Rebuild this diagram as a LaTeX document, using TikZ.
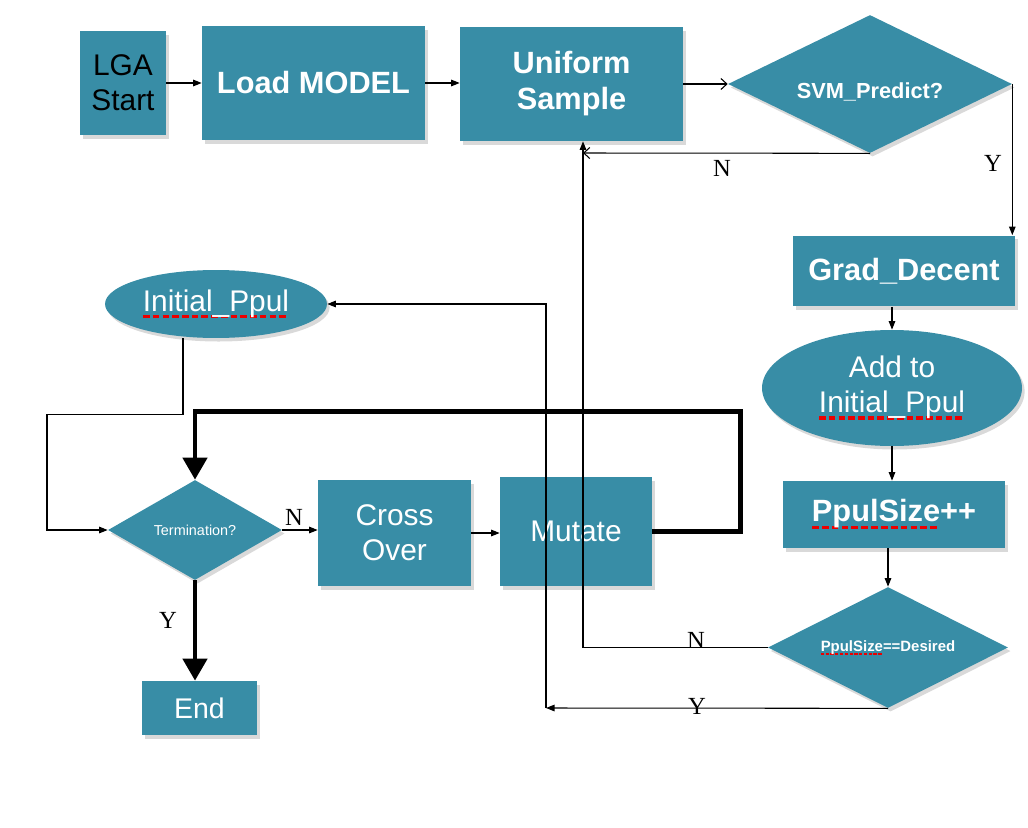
\documentclass[tikz,border=0pt]{standalone}
\usepackage{fontspec}
\setmainfont{Liberation Sans}
\newfontfamily\ynfont{Liberation Serif}
\usetikzlibrary{positioning,arrows.meta,shapes.geometric,shadows,calc}
\definecolor{boxTeal}{RGB}{56,141,166}
\definecolor{spellRed}{RGB}{235,0,0}
\newsavebox\spellbox
\newcommand\spellmark[1]{\sbox\spellbox{#1}%
  \rlap{\raisebox{-0.24em}{\textcolor{spellRed}{\hbox to \wd\spellbox{%
    \xleaders\hbox{\rule{0.22em}{0.12em}\kern0.1em}\hfil}}}}\usebox\spellbox}
\tikzset{
  blk/.style={rectangle,fill=boxTeal,text=white,align=center,inner sep=2pt,
    font=\fontsize{17}{20}\selectfont,
    drop shadow={shadow xshift=1.5pt,shadow yshift=-2pt,opacity=0.3}},
  bblk/.style={blk,font=\bfseries\fontsize{17.5}{20.5}\selectfont},
  oval/.style={blk,ellipse,inner sep=0pt},
  dec/.style={blk,diamond,shape aspect=2,inner sep=0pt},
  arr/.style={-{Triangle[length=1.7mm,width=1.3mm]},line width=0.6pt},
  openarr/.style={-{Straight Barb[length=1.2mm,width=2.2mm]},line width=0.6pt},
  fatarr/.style={-{Triangle[length=4.4mm,width=4.8mm]},line width=2.6pt},
  yn/.style={font=\ynfont\fontsize{14}{14}\selectfont,inner sep=0pt},
}

\begin{document}
\begin{tikzpicture}[x=0.02cm,y=-0.02cm]
\useasboundingbox (0,0) rectangle (1028,828);

% =====================================================================
%  TOP ROW — start, model, sampling, SVM test
% =====================================================================
\node[blk,text=black,minimum width=1.72cm,minimum height=2.08cm] (lga) at (123,83) {LGA\\Start};
\node[bblk,minimum width=4.46cm,minimum height=2.28cm] (load) at (313.5,83) {Load MODEL};
\node[bblk,minimum width=4.46cm,minimum height=2.28cm] (unif) at (571.5,84) {Uniform\\Sample};
\node[dec,minimum width=5.68cm,minimum height=2.76cm,
  label={[text=white,font=\bfseries\fontsize{12.4}{14}\selectfont,yshift=-0.16cm]center:SVM\_Predict?}]
  (svm) at (870,84) {};

% =====================================================================
%  RIGHT COLUMN — gradient step, population growth
% =====================================================================
\node[bblk,minimum width=4.44cm,minimum height=1.42cm] (grad) at (904,271) {Grad\_Decent};
\node[oval,minimum width=5.2cm,minimum height=2.32cm] (addto) at (892,388)
  {Add to\\\spellmark{Initial\_Ppul}};
\node[bblk,minimum width=4.44cm,minimum height=1.34cm] (psize) at (894,514.5) {\spellmark{PpulSize}++};
\node[dec,font=\bfseries\fontsize{8.5}{10}\selectfont,
  minimum width=4.8cm,minimum height=2.42cm] (desired) at (888,647.5) {\spellmark{PpulSize}==Desired};

% =====================================================================
%  LEFT PART — genetic loop
% =====================================================================
\node[oval,minimum width=4.44cm,minimum height=1.36cm] (initp) at (216,304) {\spellmark{Initial\_Ppul}};
\node[dec,font=\fontsize{8.2}{10}\selectfont,
  minimum width=3.48cm,minimum height=2cm] (term) at (195,530) {Termination?};
\node[blk,minimum width=3.06cm,minimum height=2.12cm] (cross) at (394.5,533) {Cross\\Over};
\node[blk,minimum width=3.04cm,minimum height=2.18cm] (mutate) at (576,531.5) {Mutate};
\node[blk,font=\fontsize{16.2}{18}\selectfont,
  minimum width=2.3cm,minimum height=1.08cm] (end) at (199.5,708) {End};

% --- free ends ---
\coordinate (nhook) at (583,153);
\coordinate (ycorner) at (546,708);

% ----- Arrows, top row -----
\draw[arr] (lga) -- (load);
\draw[arr] (load) -- (load -| unif.west);
\draw[openarr] (unif.east |- svm.west) -- (svm.west);

% SVM no -> back to sampling
\draw[openarr] (svm.south) -- (nhook);
\node[yn] (nsvm) at (722,168) {N};

% SVM yes -> Grad_Decent
\draw[arr] (svm.east) -- (svm.east |- grad.north);
\node[yn] (ysvm) at (993,163) {Y};

% ----- Arrows, right column -----
\draw[arr] (grad.south -| addto.north) -- (addto.north);
\draw[arr] (addto.south) -- (addto.south |- psize.north);
\draw[arr] (psize.south -| desired.north) -- (desired.north);

% not enough yet -> up into Uniform Sample
\draw[arr] (desired.west) -| ([xshift=0.23cm]unif.south);
\node[yn] (ndes) at (696,640) {N};

% enough -> over to Initial_Ppul
\draw[arr] (desired.south) -- (ycorner);
\node[yn] (ydes) at (697,706) {Y};
\draw[arr] (ycorner) |- (initp.east);

% ----- Arrows, genetic loop -----
\draw[arr] ([xshift=-0.66cm]initp.south) -- ++(0,76) -- ++(-136,0) |- (term.west);
\draw[arr] (term.east) -- (term.east -| cross.west);
\node[yn] (nterm) at (294,517) {N};
\draw[arr] (cross.east) -- (cross.east -| mutate.west);
\draw[fatarr] (mutate.east) -- ++(88,0) -- ++(0,-120) -| (term.north);
\draw[fatarr] (term.south) -- (term.south |- end.north);
\node[yn] (yend) at (168,620) {Y};

\end{tikzpicture}
\end{document}
